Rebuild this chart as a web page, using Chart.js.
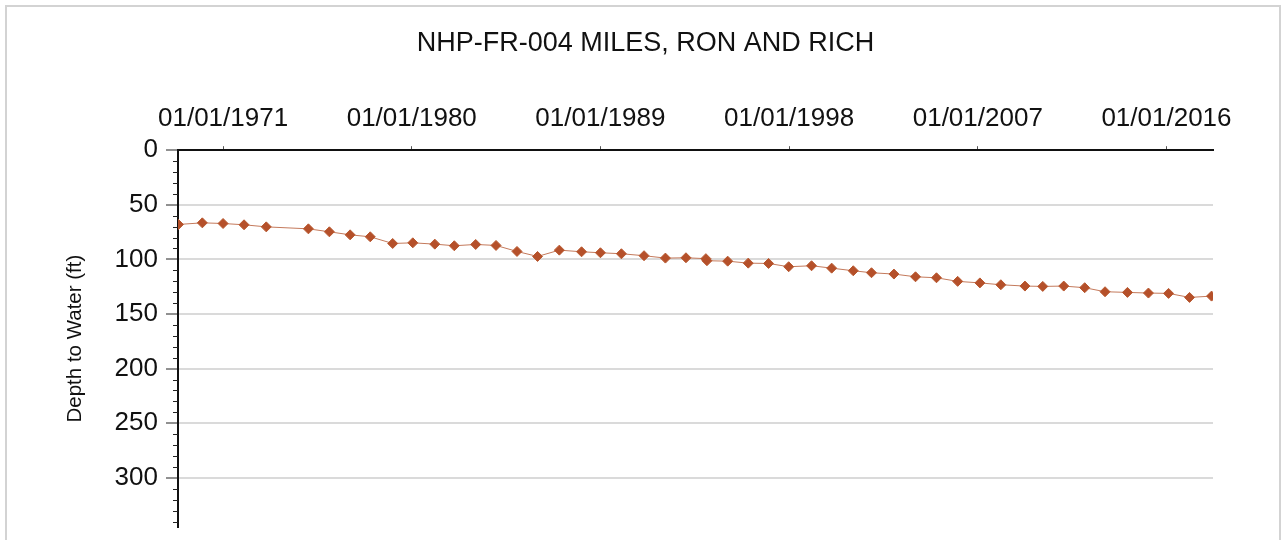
<!DOCTYPE html>
<html>
<head>
<meta charset="utf-8">
<script src="https://cdn.jsdelivr.net/npm/chart.js@4"></script>
<style>
  html, body { margin: 0; padding: 0; background: #ffffff; overflow: hidden; }
  #frame { position: absolute; left: 5px; top: 5px; width: 1272px; height: 600px;
           border: 2px solid #d3d3d3; border-bottom: none; }
  #c { position: absolute; left: 0; top: 0; }
</style>
</head>
<body>
<div id="frame"></div>
<canvas id="c" width="1283" height="540"></canvas>
<script>
// ---- data (decimal year of measurement, depth to water in ft) ----
const chartTitle = 'NHP-FR-004 MILES, RON AND RICH';
const yAxisTitle = 'Depth to Water (ft)';
const measureYears = [
  1968.87, 1970.01, 1971.00, 1972.00, 1973.06, 1975.07, 1976.07, 1977.06, 1978.02, 1979.09,
  1980.05, 1981.10, 1982.03, 1983.05, 1984.02, 1985.02, 1986.00, 1987.04, 1988.10, 1989.00,
  1990.00, 1991.08, 1992.10, 1993.08, 1994.03, 1994.08, 1995.07, 1996.05, 1997.02, 1997.98,
  1999.07, 2000.03, 2001.06, 2001.93, 2003.00, 2004.03, 2005.03, 2006.04, 2007.10, 2008.10,
  2009.25, 2010.10, 2011.10, 2012.10, 2013.07, 2014.14, 2015.14, 2016.10, 2017.10, 2018.15
];
const depthFt = [
  68.0, 66.5, 67.1, 68.3, 70.2, 72.0, 74.7, 77.5, 79.3, 85.4,
  84.8, 86.0, 87.5, 86.3, 87.2, 92.7, 97.3, 91.5, 93.0, 93.9,
  94.8, 96.6, 98.8, 98.5, 99.3, 101.2, 101.6, 103.4, 103.7, 106.7,
  105.8, 108.0, 110.4, 112.2, 113.4, 115.9, 116.8, 120.1, 121.5, 123.2,
  124.4, 124.7, 124.4, 125.9, 129.6, 130.2, 130.8, 131.1, 134.8, 133.6
];
const xTickYears = [1971, 1980, 1989, 1998, 2007, 2016];
const yTickValues = [0, 50, 100, 150, 200, 250, 300];
const yMinorStep = 10;
const xRange = [1968.85, 2018.22];
const yRange = [0, 345];

const FONT = '"Liberation Sans", Arial, Helvetica, sans-serif';

const minorTicks = {
  id: 'minorTicks',
  afterDraw(chart) {
    const y = chart.scales.y;
    const ctx = chart.ctx;
    ctx.save();
    ctx.strokeStyle = '#222';
    ctx.lineWidth = 1;
    ctx.beginPath();
    for (let v = yRange[0] + yMinorStep; v < yRange[1]; v += yMinorStep) {
      if (yTickValues.includes(v)) continue;
      const py = Math.round(y.getPixelForValue(v)) + 0.5;
      ctx.moveTo(y.right - 5, py);
      ctx.lineTo(y.right, py);
    }
    ctx.stroke();
    ctx.restore();
  }
};

new Chart(document.getElementById('c'), {
  type: 'line',
  data: {
    datasets: [{
      data: measureYears.map((yr, i) => ({ x: yr, y: depthFt[i] })),
      borderColor: '#c47a5c',
      borderWidth: 1,
      backgroundColor: '#b5502a',
      pointStyle: 'rectRot',
      pointRadius: 5,
      pointBorderColor: '#b8582f',
      pointBorderWidth: 1,
      tension: 0
    }]
  },
  options: {
    responsive: false,
    animation: false,
    events: [],
    layout: { padding: { left: 16, right: 8, top: 0, bottom: 13 } },
    plugins: {
      legend: { display: false },
      tooltip: { enabled: false },
      title: {
        display: true,
        text: chartTitle,
        color: '#111',
        font: { family: FONT, size: 27, weight: 'normal' },
        padding: { top: 27, bottom: 31.6 }
      }
    },
    scales: {
      x: {
        type: 'linear',
        position: 'top',
        min: xRange[0],
        max: xRange[1],
        afterBuildTicks: s => { s.ticks = xTickYears.map(v => ({ value: v })); },
        ticks: {
          color: '#111',
          font: { family: FONT, size: 26 },
          padding: 12,
          maxRotation: 0,
          autoSkip: false,
          callback: v => '01/01/' + v
        },
        grid: { drawOnChartArea: false, drawTicks: true, tickLength: 4, tickColor: '#555', tickWidth: 1 },
        border: { display: true, color: '#111', width: 2 }
      },
      y: {
        type: 'linear',
        position: 'left',
        reverse: true,
        min: yRange[0],
        max: yRange[1],
        afterBuildTicks: s => { s.ticks = yTickValues.map(v => ({ value: v })); },
        afterFit: s => { s.width = 162; s.paddingTop = 0; s.paddingBottom = 0; },
        ticks: {
          color: '#111',
          font: { family: FONT, size: 26 },
          padding: 8,
          autoSkip: false
        },
        grid: {
          drawOnChartArea: true,
          color: c => (c.tick && c.tick.value === 0) ? 'rgba(0,0,0,0)' : '#dadada',
          lineWidth: 2,
          drawTicks: true,
          tickLength: 12,
          tickColor: '#222',
          tickWidth: 1
        },
        border: { display: true, color: '#111', width: 2 },
        title: {
          display: true,
          text: yAxisTitle,
          color: '#111',
          font: { family: FONT, size: 20.5 },
          padding: { top: 47, bottom: 0 }
        }
      },
      yR: {
        type: 'linear',
        position: 'right',
        display: true,
        afterFit: s => { s.width = 62; },
        ticks: { display: false },
        grid: { display: false, drawTicks: false },
        border: { display: false }
      }
    }
  },
  plugins: [minorTicks]
});
</script>
</body>
</html>
